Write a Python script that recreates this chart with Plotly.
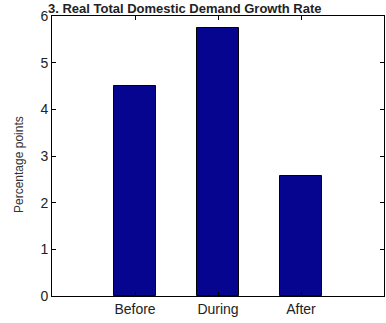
import plotly.graph_objects as go

# Growth in percentage points for each period
periods = ["Before", "During", "After"]
positions = [1, 2, 3]
growth = [4.5, 5.75, 2.58]

y_ticks = [0, 1, 2, 3, 4, 5, 6]

FONT = "Liberation Sans, Arial, sans-serif"

fig = go.Figure()
fig.add_trace(go.Bar(
    x=positions,
    y=growth,
    width=0.5,
    marker=dict(color="#05058f", line=dict(color="#000000", width=1)),
    showlegend=False,
))

axis_common = dict(
    showline=True,
    linecolor="#000000",
    linewidth=1,
    mirror="ticks",
    ticks="inside",
    ticklen=4,
    tickcolor="#000000",
    showgrid=False,
    zeroline=False,
)

fig.update_xaxes(
    range=[0, 4],
    tickvals=positions,
    ticktext=periods,
    tickfont=dict(family=FONT, size=14, color="#222222"),
    **axis_common,
)
fig.update_yaxes(
    range=[0, 6],
    tickvals=y_ticks,
    tickfont=dict(family=FONT, size=14, color="#222222"),
    **axis_common,
)

# Plot area spans 332 x 280 px
fig.add_annotation(
    text="Percentage points",
    xref="paper", yref="paper",
    x=-33 / 332, y=131 / 280,
    xanchor="center", yanchor="middle",
    textangle=-90,
    showarrow=False,
    font=dict(family=FONT, size=12, color="#333333"),
)

fig.add_annotation(
    text="<b>3. Real Total Domestic Demand Growth Rate</b>",
    xref="paper", yref="paper",
    x=-6 / 332, y=1 + 17 / 280,
    xanchor="left", yanchor="top",
    showarrow=False,
    font=dict(family=FONT, size=13, color="#222222"),
)

fig.update_layout(
    width=386,
    height=323,
    margin=dict(l=52, r=2, t=16, b=27),
    paper_bgcolor="#ffffff",
    plot_bgcolor="#ffffff",
    bargap=0,
)

fig.write_html("out.html")
